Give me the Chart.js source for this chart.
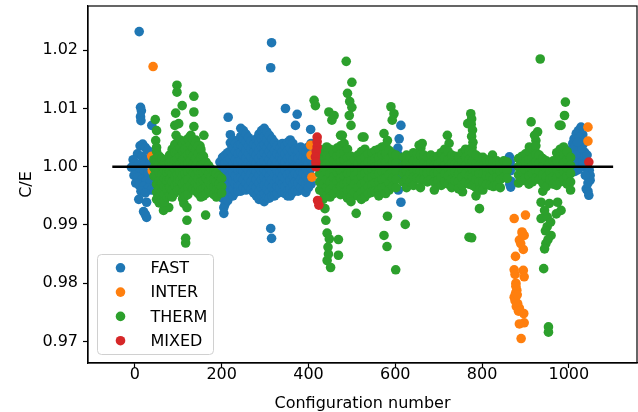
<!DOCTYPE html>
<html>
<head>
<meta charset="utf-8">
<script src="https://cdn.jsdelivr.net/npm/chart.js@4.4.1/dist/chart.umd.min.js"></script>
<style>
  html, body { margin: 0; padding: 0; background: #fff; }
  #wrap { width: 638px; height: 412px; }
</style>
</head>
<body>
<div id="wrap"><canvas id="myChart" width="638" height="412"></canvas></div>
<script>
'use strict';

//data as [configuration, C/E]

const fastPoints = [
  //first group near 0
  [10,1.0232],[13,1.0102],[15,1.0096],[13,1.0086],[14,1.0079],[39,1.0071],
  [12,1.0036],[18,1.0039],[24,1.0033],[30,1.0028],[6,1.0022],[16,1.0018],[26,1.0012],[-4,1.0012],
  [0,1.0006],[8,1.0004],[20,1.0002],[34,1.0005],[-8,0.9999],[2,0.9995],[12,0.9992],[22,0.9991],
  [30,0.9988],[-2,0.9985],[6,0.9982],[16,0.9978],[26,0.9976],[36,0.9975],[2,0.9972],[10,0.9968],
  [20,0.9966],[30,0.9963],[38,0.9960],[14,0.9958],[24,0.9955],[9,0.9944],[27,0.9939],[20,0.9923],
  [24,0.9918],[27,0.9913],
  //big group 195-410
  [196,1.0008],[196,0.9994],[196,0.9980],[196,0.9966],
  [202,1.0016],[202,1.0002],[202,0.9988],[202,0.9974],[202,0.9960],[202,0.9946],
  [208,1.0020],[208,1.0006],[208,0.9992],[208,0.9978],[208,0.9964],[208,0.9950],[208,0.9936],
  [205,0.9930],[205,0.9920],
  [214,1.0024],[214,1.0010],[214,0.9996],[214,0.9982],[214,0.9968],[214,0.9954],[214,0.9942],
  [215,1.0085],
  [220,1.0055],[220,1.0041],[220,1.0027],[220,1.0013],[220,0.9999],[220,0.9985],[220,0.9971],[220,0.9957],
  [226,1.0046],[226,1.0032],[226,1.0018],[226,1.0004],[226,0.9990],[226,0.9976],[226,0.9962],[226,0.9950],
  [232,1.0040],[232,1.0026],[232,1.0012],[232,0.9998],[232,0.9984],[232,0.9970],[232,0.9956],
  [238,1.0036],[238,1.0022],[238,1.0008],[238,0.9994],[238,0.9980],[238,0.9966],[238,0.9958],
  [244,1.0066],[244,1.0052],[244,1.0038],[244,1.0024],[244,1.0010],[244,0.9996],[244,0.9982],[244,0.9968],[244,0.9958],
  [250,1.0062],[250,1.0048],[250,1.0034],[250,1.0020],[250,1.0006],[250,0.9992],[250,0.9978],[250,0.9964],
  [256,1.0056],[256,1.0042],[256,1.0028],[256,1.0014],[256,1.0000],[256,0.9986],[256,0.9972],[256,0.9960],
  [262,1.0050],[262,1.0036],[262,1.0022],[262,1.0008],[262,0.9994],[262,0.9980],[262,0.9966],
  [268,1.0044],[268,1.0030],[268,1.0016],[268,1.0002],[268,0.9988],[268,0.9974],[268,0.9960],
  [274,1.0038],[274,1.0024],[274,1.0010],[274,0.9996],[274,0.9982],[274,0.9968],[274,0.9955],
  [280,1.0048],[280,1.0034],[280,1.0020],[280,1.0006],[280,0.9992],[280,0.9978],[280,0.9964],[280,0.9950],
  [286,1.0056],[286,1.0042],[286,1.0028],[286,1.0014],[286,1.0000],[286,0.9986],[286,0.9972],[286,0.9958],[286,0.9944],
  [292,1.0062],[292,1.0048],[292,1.0034],[292,1.0020],[292,1.0006],[292,0.9992],[292,0.9978],[292,0.9964],[292,0.9950],
  [298,1.0066],[298,1.0052],[298,1.0038],[298,1.0024],[298,1.0010],[298,0.9996],[298,0.9982],[298,0.9968],[298,0.9954],[298,0.9940],
  [304,1.0060],[304,1.0046],[304,1.0032],[304,1.0018],[304,1.0004],[304,0.9990],[304,0.9976],[304,0.9962],[304,0.9948],
  [315,1.0213],[313,1.0170],[313,0.9894],[315,0.9877],
  [310,1.0054],[310,1.0040],[310,1.0026],[310,1.0012],[310,0.9998],[310,0.9984],[310,0.9970],[310,0.9956],[310,0.9946],
  [316,1.0048],[316,1.0034],[316,1.0020],[316,1.0006],[316,0.9992],[316,0.9978],[316,0.9964],[316,0.9950],
  [322,1.0042],[322,1.0028],[322,1.0014],[322,1.0000],[322,0.9986],[322,0.9972],[322,0.9958],[322,0.9950],
  [328,1.0036],[328,1.0022],[328,1.0008],[328,0.9994],[328,0.9980],[328,0.9966],[328,0.9954],
  [334,1.0032],[334,1.0018],[334,1.0004],[334,0.9990],[334,0.9976],[334,0.9962],
  [340,1.0040],[340,1.0026],[340,1.0012],[340,0.9998],[340,0.9984],[340,0.9970],[340,0.9956],
  [347,1.0100],[374,1.0090],[370,1.0071],[405,1.0064],
  [346,1.0036],[346,1.0022],[346,1.0008],[346,0.9994],[346,0.9980],[346,0.9966],[346,0.9954],
  [352,1.0042],[352,1.0028],[352,1.0014],[352,1.0000],[352,0.9986],[352,0.9972],[352,0.9958],[352,0.9950],
  [358,1.0046],[358,1.0032],[358,1.0018],[358,1.0004],[358,0.9990],[358,0.9976],[358,0.9962],[358,0.9950],
  [364,1.0040],[364,1.0026],[364,1.0012],[364,0.9998],[364,0.9984],[364,0.9970],[364,0.9956],
  [370,1.0030],[370,1.0016],[370,1.0002],[370,0.9988],[370,0.9974],[370,0.9960],
  [376,1.0028],[376,1.0014],[376,1.0000],[376,0.9986],[376,0.9972],[376,0.9958],
  [382,1.0034],[382,1.0020],[382,1.0006],[382,0.9992],[382,0.9978],[382,0.9964],
  [388,1.0030],[388,1.0016],[388,1.0002],[388,0.9988],[388,0.9974],[388,0.9960],
  [394,1.0026],[394,1.0012],[394,0.9998],[394,0.9984],[394,0.9970],[394,0.9956],
  [400,1.0034],[400,1.0020],[400,1.0006],[400,0.9992],[400,0.9978],[400,0.9964],
  [406,1.0040],[406,1.0026],[406,1.0012],[406,0.9998],[406,0.9984],[406,0.9970],
  //thin column near 605
  [613,1.0071],[609,1.0048],[606,1.0032],[605,1.0022],[604,1.0012],[605,1.0002],[606,0.9993],
  [606,0.9985],[607,0.9960],[613,0.9939],
  //column near 865
  [863,1.0017],[865,1.0008],[866,1.0000],[865,0.9993],[867,0.9975],[866,0.9965],[864,0.9970],
  //last group 1000-1050
  [1028,1.0068],[1022,1.0062],[1017,1.0057],[1012,1.0048],[1009,1.0040],[1006,1.0030],[1005,1.0022],
  [1006,1.0012],[1008,1.0003],[1009,0.9994],[1014,0.9992],[1018,1.0005],[1020,1.0018],[1024,1.0030],
  [1028,1.0045],[1032,1.0055],[1034,1.0040],[1036,1.0025],[1038,1.0010],[1040,1.0000],[1044,0.9995],
  [1047,0.9994],[1049,0.9985],[1049,0.9977],[1040,0.9962],[1044,0.9958],[1046,0.9951],[1030,1.0015],
  [1026,1.0000],[1022,0.9995],[1014,1.0035],[1016,1.0020],[1012,1.0008],[1024,1.0050],[1034,1.0005],
  [1042,1.0020],[1038,0.9985],[1044,0.9972],[1030,1.0032],[1020,1.0042]
];

const interPoints = [
  [42,1.0172],[39,1.0018],[40,0.9993],
  [405,1.0037],[406,1.0020],[408,0.9982],
  [1044,1.0068],[1044,1.0044],
  [874,0.9911],[900,0.9917],[892,0.9888],[897,0.9882],[886,0.9874],[895,0.9858],[877,0.9846],
  [874,0.9823],[895,0.9822],[897,0.9811],[878,0.9800],[880,0.9788],[874,0.9776],[882,0.9765],
  [886,0.9757],[896,0.9748],[897,0.9732],[886,0.9730],[890,0.9705],
  [876,0.9815],[878,0.9795],[877,0.9782],[876,0.9770],[879,0.9760],[884,0.9752],[881,0.9780],
  [893,0.9885],[889,0.9868]
];

const thermPoints = [
  //group 40-210, outliers
  [97,1.0140],[97,1.0128],[136,1.0121],[109,1.0105],[94,1.0092],[136,1.0094],[47,1.0081],
  [92,1.0071],[101,1.0074],[136,1.0069],[159,1.0054],[50,1.0062],[48,1.0045],[50,1.0033],
  [95,1.0054],[99,1.0042],[129,1.0054],[140,1.0046],[150,1.0036],[152,1.0025],
  [66,0.9925],[78,0.9930],[113,0.9937],[120,0.9930],[120,0.9908],[163,0.9917],[117,0.9877],
  [117,0.9869],[190,0.9952],
  //group 40-210, body
  [44,1.0012],[44,0.9998],[44,0.9984],
  [50,1.0026],[50,1.0012],[50,0.9998],[50,0.9984],[50,0.9970],[50,0.9956],[50,0.9944],
  [56,1.0018],[56,1.0004],[56,0.9990],[56,0.9976],[56,0.9962],[56,0.9948],[56,0.9938],
  [62,1.0014],[62,1.0000],[62,0.9986],[62,0.9972],[62,0.9958],[62,0.9944],
  [68,1.0008],[68,0.9994],[68,0.9980],[68,0.9966],[68,0.9952],[68,0.9940],
  [74,1.0004],[74,0.9990],[74,0.9976],[74,0.9962],[74,0.9948],
  [80,1.0020],[80,1.0006],[80,0.9992],[80,0.9978],[80,0.9964],[80,0.9950],
  [86,1.0030],[86,1.0016],[86,1.0002],[86,0.9988],[86,0.9974],[86,0.9960],[86,0.9948],
  [92,1.0038],[92,1.0024],[92,1.0010],[92,0.9996],[92,0.9982],[92,0.9968],[92,0.9955],
  [98,1.0042],[98,1.0028],[98,1.0014],[98,1.0000],[98,0.9986],[98,0.9972],[98,0.9960],
  [104,1.0046],[104,1.0032],[104,1.0018],[104,1.0004],[104,0.9990],[104,0.9976],[104,0.9962],
  [110,1.0040],[110,1.0026],[110,1.0012],[110,0.9998],[110,0.9984],[110,0.9970],[110,0.9956],[110,0.9945],
  [116,1.0044],[116,1.0030],[116,1.0016],[116,1.0002],[116,0.9988],[116,0.9974],[116,0.9960],[116,0.9950],
  [122,1.0048],[122,1.0034],[122,1.0020],[122,1.0006],[122,0.9992],[122,0.9978],[122,0.9964],[122,0.9952],
  [128,1.0052],[128,1.0038],[128,1.0024],[128,1.0010],[128,0.9996],[128,0.9982],[128,0.9968],
  [134,1.0046],[134,1.0032],[134,1.0018],[134,1.0004],[134,0.9990],[134,0.9976],[134,0.9962],
  [140,1.0042],[140,1.0028],[140,1.0014],[140,1.0000],[140,0.9986],[140,0.9972],[140,0.9958],
  [146,1.0036],[146,1.0022],[146,1.0008],[146,0.9994],[146,0.9980],[146,0.9966],[146,0.9954],
  [152,1.0030],[152,1.0016],[152,1.0002],[152,0.9988],[152,0.9974],[152,0.9960],[152,0.9948],
  [158,1.0018],[158,1.0004],[158,0.9990],[158,0.9976],[158,0.9962],[158,0.9950],
  [164,1.0008],[164,0.9994],[164,0.9980],[164,0.9966],[164,0.9954],
  [170,1.0002],[170,0.9988],[170,0.9974],[170,0.9960],
  [176,0.9996],[176,0.9982],[176,0.9968],[176,0.9956],
  [182,0.9992],[182,0.9978],[182,0.9964],[182,0.9952],
  [188,0.9988],[188,0.9974],[188,0.9960],[188,0.9948],
  [194,0.9984],[194,0.9970],[194,0.9956],
  [200,0.9980],[200,0.9966],[200,0.9955],
  //group 410-870, outliers
  [413,1.0114],[416,1.0105],[447,1.0094],[459,1.0088],[454,1.0080],[487,1.0181],[500,1.0145],
  [490,1.0126],[495,1.0112],[500,1.0102],[494,1.0088],[498,1.0071],[474,1.0054],[478,1.0054],
  [528,1.0051],[524,1.0051],[574,1.0057],[582,1.0045],[590,1.0103],[597,1.0091],[593,1.0080],
  [655,1.0037],[659,1.0032],[662,1.0040],[720,1.0054],[724,1.0040],[767,1.0074],[774,1.0091],
  [776,1.0082],[775,1.0073],[778,1.0063],[776,1.0052],[779,1.0042],[777,1.0033],[824,1.0020],
  [438,0.9928],[440,0.9908],[443,0.9886],[448,0.9876],[445,0.9862],[469,0.9875],[469,0.9848],
  [443,0.9839],[451,0.9827],[446,0.9850],[510,0.9920],[582,0.9915],[623,0.9901],[574,0.9882],
  [581,0.9863],[601,0.9823],[755,0.9957],[770,0.9879],[776,0.9878],[794,0.9928],
  //group 410-870, body
  [426,1.0030],[426,1.0016],[426,1.0002],[426,0.9988],[426,0.9974],[426,0.9960],
  [434,1.0026],[434,1.0012],[434,0.9998],[434,0.9984],[434,0.9970],[434,0.9956],[434,0.9944],
  [442,1.0034],[442,1.0020],[442,1.0006],[442,0.9992],[442,0.9978],[442,0.9964],[442,0.9950],
  [450,1.0030],[450,1.0016],[450,1.0002],[450,0.9988],[450,0.9974],[450,0.9960],[450,0.9948],
  [458,1.0024],[458,1.0010],[458,0.9996],[458,0.9982],[458,0.9968],[458,0.9954],
  [466,1.0032],[466,1.0018],[466,1.0004],[466,0.9990],[466,0.9976],[466,0.9962],
  [474,1.0036],[474,1.0022],[474,1.0008],[474,0.9994],[474,0.9980],[474,0.9966],[474,0.9952],
  [482,1.0040],[482,1.0026],[482,1.0012],[482,0.9998],[482,0.9984],[482,0.9970],[482,0.9956],
  [490,1.0030],[490,1.0016],[490,1.0002],[490,0.9988],[490,0.9974],[490,0.9960],[490,0.9946],
  [498,1.0018],[498,1.0004],[498,0.9990],[498,0.9976],[498,0.9962],[498,0.9948],[498,0.9940],
  [506,1.0012],[506,0.9998],[506,0.9984],[506,0.9970],[506,0.9956],
  [514,1.0020],[514,1.0006],[514,0.9992],[514,0.9978],[514,0.9964],[514,0.9950],
  [522,1.0026],[522,1.0012],[522,0.9998],[522,0.9984],[522,0.9970],[522,0.9956],[522,0.9944],
  [530,1.0030],[530,1.0016],[530,1.0002],[530,0.9988],[530,0.9974],[530,0.9960],[530,0.9948],
  [538,1.0022],[538,1.0008],[538,0.9994],[538,0.9980],[538,0.9966],[538,0.9954],
  [546,1.0024],[546,1.0010],[546,0.9996],[546,0.9982],[546,0.9968],[546,0.9956],
  [554,1.0028],[554,1.0014],[554,1.0000],[554,0.9986],[554,0.9972],[554,0.9958],
  [562,1.0030],[562,1.0016],[562,1.0002],[562,0.9988],[562,0.9974],[562,0.9960],[562,0.9950],
  [570,1.0034],[570,1.0020],[570,1.0006],[570,0.9992],[570,0.9978],[570,0.9964],
  [578,1.0036],[578,1.0022],[578,1.0008],[578,0.9994],[578,0.9980],[578,0.9966],[578,0.9954],
  [586,1.0028],[586,1.0014],[586,1.0000],[586,0.9986],[586,0.9972],[586,0.9960],
  [594,1.0022],[594,1.0008],[594,0.9994],[594,0.9980],[594,0.9966],
  [602,1.0020],[602,1.0006],[602,0.9992],[602,0.9978],[602,0.9964],
  [618,1.0016],[618,1.0002],[618,0.9988],[618,0.9974],
  [626,1.0020],[626,1.0006],[626,0.9992],[626,0.9978],[626,0.9964],
  [634,1.0016],[634,1.0002],[634,0.9988],[634,0.9974],
  [642,1.0024],[642,1.0010],[642,0.9996],[642,0.9982],[642,0.9968],
  [650,1.0022],[650,1.0008],[650,0.9994],[650,0.9980],
  [658,1.0020],[658,1.0006],[658,0.9992],[658,0.9978],[658,0.9964],
  [666,1.0020],[666,1.0006],[666,0.9992],[666,0.9978],
  [674,1.0016],[674,1.0002],[674,0.9988],[674,0.9974],
  [682,1.0020],[682,1.0006],[682,0.9992],[682,0.9978],
  [690,1.0016],[690,1.0002],[690,0.9988],[690,0.9974],[690,0.9960],
  [698,1.0018],[698,1.0004],[698,0.9990],[698,0.9976],
  [706,1.0024],[706,1.0010],[706,0.9996],[706,0.9982],[706,0.9968],
  [714,1.0030],[714,1.0016],[714,1.0002],[714,0.9988],[714,0.9974],
  [722,1.0026],[722,1.0012],[722,0.9998],[722,0.9984],[722,0.9970],
  [730,1.0020],[730,1.0006],[730,0.9992],[730,0.9978],[730,0.9964],
  [738,1.0018],[738,1.0004],[738,0.9990],[738,0.9976],
  [746,1.0016],[746,1.0002],[746,0.9988],[746,0.9974],[746,0.9962],
  [754,1.0024],[754,1.0010],[754,0.9996],[754,0.9982],[754,0.9968],
  [762,1.0030],[762,1.0016],[762,1.0002],[762,0.9988],[762,0.9974],
  [770,1.0026],[770,1.0012],[770,0.9998],[770,0.9984],[770,0.9970],
  [778,1.0024],[778,1.0010],[778,0.9996],[778,0.9982],[778,0.9968],
  [786,1.0020],[786,1.0006],[786,0.9992],[786,0.9978],[786,0.9964],[786,0.9950],
  [794,1.0016],[794,1.0002],[794,0.9988],[794,0.9974],[794,0.9960],
  [802,1.0016],[802,1.0002],[802,0.9988],[802,0.9974],[802,0.9960],
  [810,1.0012],[810,0.9998],[810,0.9984],[810,0.9970],
  [818,1.0010],[818,0.9996],[818,0.9982],[818,0.9968],
  [826,1.0008],[826,0.9994],[826,0.9980],[826,0.9966],
  [834,1.0010],[834,0.9996],[834,0.9982],[834,0.9968],
  [842,1.0006],[842,0.9992],[842,0.9978],[842,0.9964],
  [850,1.0010],[850,0.9996],[850,0.9982],
  [858,1.0008],[858,0.9994],[858,0.9980],
  //group 880-1040
  [934,1.0185],[992,1.0111],[990,1.0088],[913,1.0077],[978,1.0071],[982,1.0071],[928,1.0060],
  [924,1.0045],[909,1.0034],[921,1.0054],[926,1.0023],
  [884,1.0014],[884,1.0000],[884,0.9986],[884,0.9972],
  [892,1.0018],[892,1.0004],[892,0.9990],[892,0.9976],
  [900,1.0022],[900,1.0008],[900,0.9994],[900,0.9980],
  [908,1.0026],[908,1.0012],[908,0.9998],[908,0.9984],[908,0.9970],
  [916,1.0030],[916,1.0016],[916,1.0002],[916,0.9988],[916,0.9974],
  [924,1.0036],[924,1.0022],[924,1.0008],[924,0.9994],[924,0.9980],
  [932,1.0020],[932,1.0006],[932,0.9992],[932,0.9978],
  [940,1.0014],[940,1.0000],[940,0.9986],[940,0.9972],[940,0.9958],
  [948,1.0010],[948,0.9996],[948,0.9982],[948,0.9966],
  [956,1.0006],[956,0.9992],[956,0.9978],
  [964,1.0010],[964,0.9996],[964,0.9982],[964,0.9970],
  [972,1.0024],[972,1.0010],[972,0.9996],[972,0.9982],[972,0.9968],
  [980,1.0030],[980,1.0016],[980,1.0002],[980,0.9988],[980,0.9974],
  [988,1.0034],[988,1.0020],[988,1.0006],[988,0.9992],[988,0.9978],
  [996,1.0026],[996,1.0012],[996,0.9998],[996,0.9984],[996,0.9970],
  [1004,1.0016],[1004,1.0002],[1004,0.9988],[1004,0.9974],[1004,0.9960],
  [936,0.9939],[955,0.9937],[974,0.9939],[982,0.9925],[936,0.9911],[950,0.9914],[971,0.9919],
  [950,0.9897],[959,0.9882],[947,0.9868],[944,0.9859],[952,0.9875],[946,0.9890],[942,0.9825],
  [953,0.9725],[953,0.9716],[944,0.9925],[958,0.9905]
];

const mixedPoints = [
  [420,1.0051],[420,1.0043],[420,1.0034],[418,1.0026],[416,1.0017],[417,1.0008],[417,1.0000],
  [421,0.9942],[424,0.9934],[1046,1.0008]
];

const seriesNames = ['FAST', 'INTER', 'THERM', 'MIXED'];
const seriesColors = ['#1f77b4', '#ff7f0e', '#2ca02c', '#d62728'];
const xTicks = [0, 200, 400, 600, 800, 1000];
const yTicks = [0.97, 0.98, 0.99, 1.00, 1.01, 1.02];
const refLineX = [-52, 1102];
const refLineY = 1.0;

//helpers

const FONT = "'DejaVu Sans', sans-serif";
const POINT_R = 4.8;

function toXY(points) {
  return points.map(p => ({x: p[0], y: p[1]}));
}

//no automatic label padding, the axes box is fixed
function noPadding(scale) {
  scale.paddingTop = 0;
  scale.paddingBottom = 0;
  scale.paddingLeft = 0;
  scale.paddingRight = 0;
}

//outer frame (top and right spines), axis titles, legend box
const framePlugin = {
  id: 'frame',
  afterDraw(chart) {
    const ctx = chart.ctx;
    const a = chart.chartArea;
    ctx.save();
    ctx.strokeStyle = '#000';
    ctx.lineWidth = 1.2;
    ctx.strokeRect(a.left, a.top, a.right - a.left, a.bottom - a.top);

    //axis titles
    ctx.fillStyle = '#000';
    ctx.font = '16px ' + FONT;
    ctx.textAlign = 'center';
    ctx.textBaseline = 'middle';
    ctx.fillText('Configuration number', (a.left + a.right) / 2, 404);
    ctx.save();
    ctx.translate(27, (a.top + a.bottom) / 2);
    ctx.rotate(-Math.PI / 2);
    ctx.fillText('C/E', 0, 0);
    ctx.restore();

    //legend
    const bx = 97.5, by = 254.5, bw = 116, bh = 100, r = 4;
    ctx.beginPath();
    ctx.moveTo(bx + r, by);
    ctx.arcTo(bx + bw, by, bx + bw, by + bh, r);
    ctx.arcTo(bx + bw, by + bh, bx, by + bh, r);
    ctx.arcTo(bx, by + bh, bx, by, r);
    ctx.arcTo(bx, by, bx + bw, by, r);
    ctx.closePath();
    ctx.fillStyle = 'rgba(255,255,255,0.8)';
    ctx.fill();
    ctx.strokeStyle = '#d0d0d0';
    ctx.lineWidth = 1;
    ctx.stroke();
    ctx.textAlign = 'left';
    for(let i = 0; i < seriesNames.length; i++) {
      const yy = 267.8 + i * 24.3;
      ctx.beginPath();
      ctx.arc(120.5, yy, POINT_R, 0, Math.PI * 2);
      ctx.fillStyle = seriesColors[i];
      ctx.fill();
      ctx.fillStyle = '#000';
      ctx.fillText(seriesNames[i], 150.5, yy + 1);
    }
    ctx.restore();
  }
};

//main

const allPoints = [fastPoints, interPoints, thermPoints, mixedPoints];
const datasets = [];
for(let i = 0; i < seriesNames.length; i++) {
  datasets.push({
    label: seriesNames[i],
    data: toXY(allPoints[i]),
    backgroundColor: seriesColors[i],
    borderWidth: 0,
    pointRadius: POINT_R,
    order: 4 - i
  });
}
datasets.push({
  label: 'ref',
  data: refLineX.map(x => ({x: x, y: refLineY})),
  showLine: true,
  borderColor: '#000',
  borderWidth: 2.4,
  pointRadius: 0,
  order: 0
});

const config = {
  type: 'scatter',
  data: {datasets: datasets},
  options: {
    responsive: false,
    animation: false,
    layout: {autoPadding: false, padding: {left: 0, right: 1, top: 6, bottom: 0}},
    plugins: {legend: {display: false}, tooltip: {enabled: false}},
    scales: {
      x: {
        type: 'linear',
        min: -108,
        max: 1157,
        afterFit(scale) { scale.height = 49; noPadding(scale); },
        afterBuildTicks(scale) { scale.ticks = xTicks.map(v => ({value: v})); },
        grid: {drawOnChartArea: false, tickLength: 5, tickColor: '#000', tickWidth: 1.2},
        border: {display: true, color: '#000', width: 1.2},
        ticks: {
          color: '#000',
          font: {family: FONT, size: 16},
          padding: -3,
          maxRotation: 0,
          callback: v => String(v)
        }
      },
      y: {
        type: 'linear',
        min: 0.9663,
        max: 1.0276,
        afterFit(scale) { scale.width = 88; noPadding(scale); },
        afterBuildTicks(scale) { scale.ticks = yTicks.map(v => ({value: v})); },
        grid: {drawOnChartArea: false, tickLength: 5, tickColor: '#000', tickWidth: 1.2},
        border: {display: true, color: '#000', width: 1.2},
        ticks: {
          color: '#000',
          font: {family: FONT, size: 16},
          padding: 5,
          callback: v => v.toFixed(2)
        }
      }
    }
  },
  plugins: [framePlugin]
};

const myChart = new Chart(document.getElementById('myChart'), config);
</script>
</body>
</html>
